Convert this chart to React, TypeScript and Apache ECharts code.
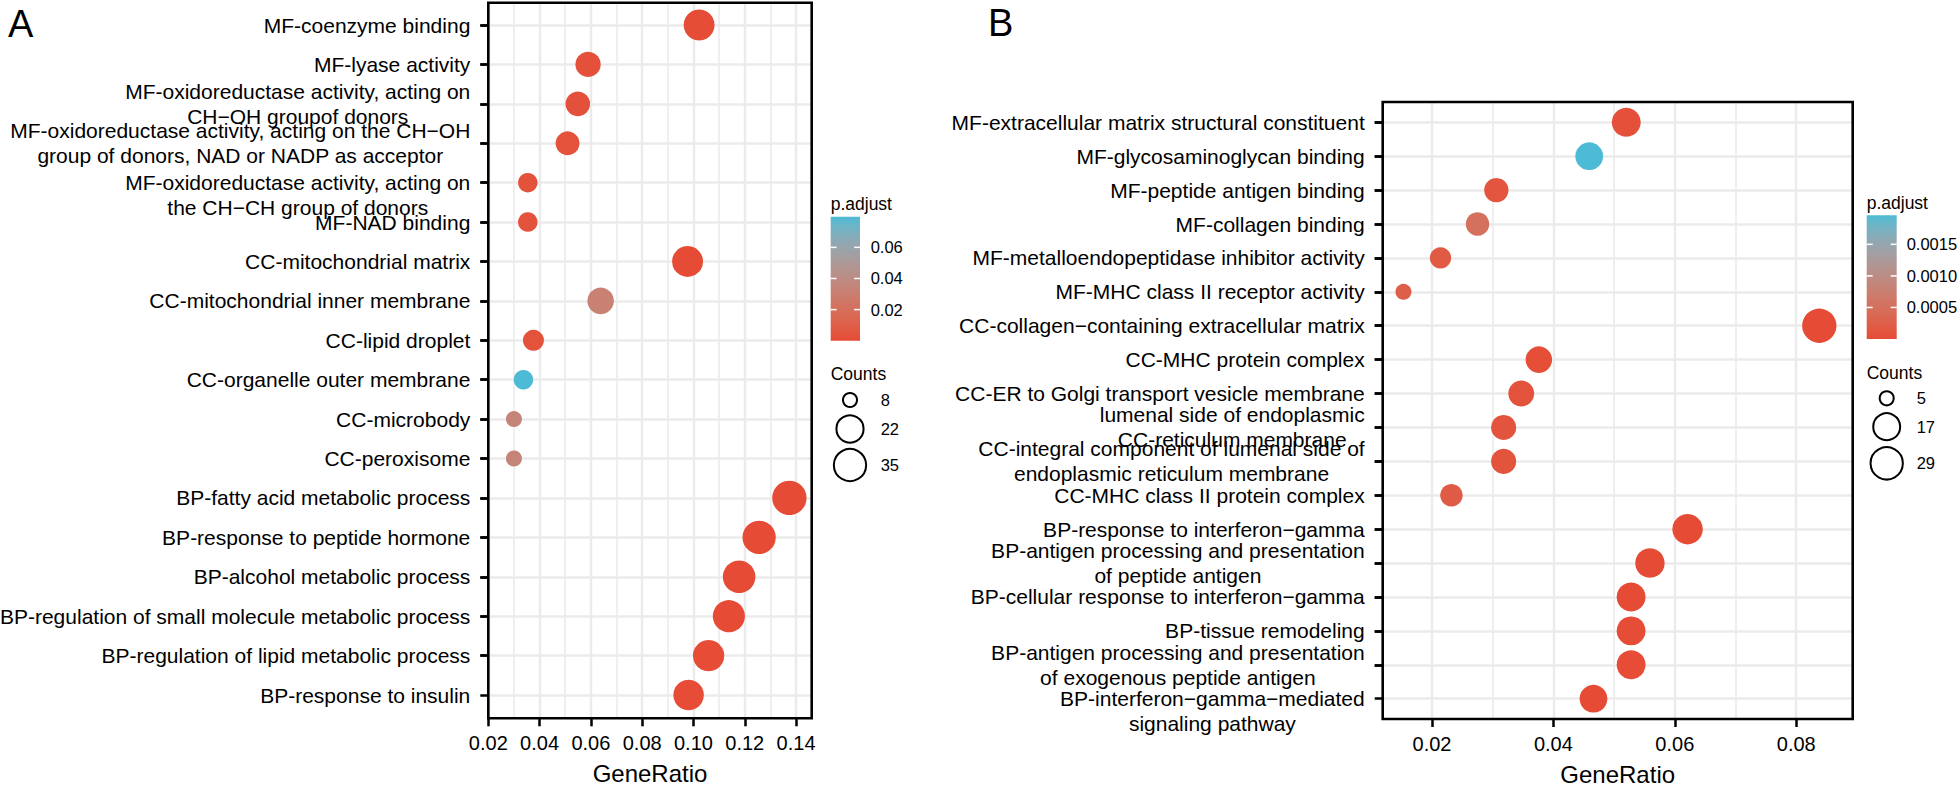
import React, { useEffect, useRef } from "react";
import * as echarts from "echarts";

const FONT = "'Liberation Sans', Arial, Helvetica, sans-serif";

// ---------------- Panel A data ----------------
const termsA = [
  "MF-coenzyme binding",
  "MF-lyase activity",
  "MF-oxidoreductase activity, acting on\nCH−OH groupof donors",
  "MF-oxidoreductase activity, acting on the CH−OH\ngroup of donors, NAD or NADP as acceptor",
  "\nMF-oxidoreductase activity, acting on\nthe CH−CH group of donors",
  "MF-NAD binding",
  "CC-mitochondrial matrix",
  "CC-mitochondrial inner membrane",
  "CC-lipid droplet",
  "CC-organelle outer membrane",
  "CC-microbody",
  "CC-peroxisome",
  "BP-fatty acid metabolic process",
  "BP-response to peptide hormone",
  "BP-alcohol metabolic process",
  "BP-regulation of small molecule metabolic process",
  "BP-regulation of lipid metabolic process",
  "BP-response to insulin",
];
const ratioA = [0.1022, 0.0589, 0.0549, 0.0509, 0.0354, 0.0354, 0.0977, 0.0638, 0.0376, 0.0337, 0.03, 0.03, 0.1374, 0.1256, 0.1178, 0.1138, 0.1059, 0.0981];
const countA = [26, 15, 14, 13, 9, 9, 26, 17, 10, 9, 8, 8, 35, 32, 30, 29, 27, 25];
const padjA = [0.0008, 0.0026, 0.0031, 0.0034, 0.0039, 0.0037, 0.0002, 0.0318, 0.0036, 0.0797, 0.0341, 0.0341, 0.00002, 0.00004, 0.0001, 0.00015, 0.0003, 0.0005];
const xTicksA = [0.02, 0.04, 0.06, 0.08, 0.1, 0.12, 0.14];
const colorTicksA = [0.02, 0.04, 0.06];
const sizeLegendA = [8, 22, 35];

// ---------------- Panel B data ----------------
const termsB = [
  "MF-extracellular matrix structural constituent",
  "MF-glycosaminoglycan binding",
  "MF-peptide antigen binding",
  "MF-collagen binding",
  "MF-metalloendopeptidase inhibitor activity",
  "MF-MHC class II receptor activity",
  "CC-collagen−containing extracellular matrix",
  "CC-MHC protein complex",
  "CC-ER to Golgi transport vesicle membrane",
  "lumenal side of endoplasmic\nCC-reticulum membrane",
  "CC-integral component of lumenal side of\nendoplasmic reticulum membrane",
  "CC-MHC class II protein complex",
  "BP-response to interferon−gamma",
  "BP-antigen processing and presentation\nof peptide antigen",
  "BP-cellular response to interferon−gamma",
  "BP-tissue remodeling",
  "BP-antigen processing and presentation\nof exogenous peptide antigen",
  "\nBP-interferon−gamma−mediated\nsignaling pathway",
];
const ratioB = [0.052, 0.0459, 0.0306, 0.0275, 0.0214, 0.0153, 0.0838, 0.0376, 0.0347, 0.0318, 0.0318, 0.0232, 0.0621, 0.0559, 0.0528, 0.0528, 0.0528, 0.0466];
const countB = [17, 15, 10, 9, 7, 5, 29, 13, 12, 11, 11, 8, 20, 18, 17, 17, 17, 15];
const padjB = [0.00006, 0.00196, 0.00012, 0.0005, 0.00018, 0.00025, 0.0000002, 0.00003, 0.00009, 0.00011, 0.0001, 0.0002, 0.000001, 0.000004, 0.000002, 0.00002, 0.00001, 0.000005];
const xTicksB = [0.02, 0.04, 0.06, 0.08];
const colorTicksB = [0.0005, 0.001, 0.0015];
const sizeLegendB = [5, 17, 29];

const LOW = "#E64B35";
const HIGH = "#4DBBD5";

// ---------------- layout ----------------
const PA = { left: 488.3, right: 811.7, top: 2.7, bottom: 718.3, row0: 25, rowN: 695, xMin: 0.02, xMax: 0.1461, labSplit: 6, lineSplit: 12 };
const PB = { left: 1382.7, right: 1852.7, top: 102, bottom: 719, row0: 122.3, rowN: 698.7, xMin: 0.01188, xMax: 0.0893, labSplit: 4, lineSplit: 8 };
const LA = { barX: 830.7, barY: 216.7, barW: 29.3, barH: 124, titleY: 204, countsY: 374.3, circX: 850, circYs: [400, 429, 465], labX: 880.7, tickLabX: 870.7, digits: 2 };
const LB = { barX: 1866.7, barY: 215.3, barW: 30, barH: 123.7, titleY: 202.7, countsY: 373, circX: 1886.7, circYs: [398.3, 426.7, 463.3], labX: 1916.7, tickLabX: 1906.7, digits: 4 };

// ---------------- colour (Lab interpolation like ggplot) ----------------
function hexToRgb(h: string) {
  return [parseInt(h.slice(1, 3), 16), parseInt(h.slice(3, 5), 16), parseInt(h.slice(5, 7), 16)];
}
function s2l(c: number) { c /= 255; return c <= 0.04045 ? c / 12.92 : Math.pow((c + 0.055) / 1.055, 2.4); }
function l2s(c: number) { const v = c <= 0.0031308 ? 12.92 * c : 1.055 * Math.pow(Math.max(c, 0), 1 / 2.4) - 0.055; return Math.max(0, Math.min(255, Math.round(v * 255))); }
function rgbToLab(rgb: number[]) {
  const R = s2l(rgb[0]), G = s2l(rgb[1]), B = s2l(rgb[2]);
  const X = (0.4124564 * R + 0.3575761 * G + 0.1804375 * B) / 0.95047;
  const Y = 0.2126729 * R + 0.7151522 * G + 0.072175 * B;
  const Z = (0.0193339 * R + 0.119192 * G + 0.9503041 * B) / 1.08883;
  const f = (t: number) => (t > 216 / 24389 ? Math.cbrt(t) : ((24389 / 27) * t + 16) / 116);
  const fx = f(X), fy = f(Y), fz = f(Z);
  return [116 * fy - 16, 500 * (fx - fy), 200 * (fy - fz)];
}
function labToRgb(lab: number[]) {
  const fy = (lab[0] + 16) / 116, fx = fy + lab[1] / 500, fz = fy - lab[2] / 200;
  const fi = (t: number) => (t * t * t > 216 / 24389 ? t * t * t : (116 * t - 16) / (24389 / 27));
  const X = fi(fx) * 0.95047, Y = fi(fy), Z = fi(fz) * 1.08883;
  const R = 3.2404542 * X - 1.5371385 * Y - 0.4985314 * Z;
  const G = -0.969266 * X + 1.8760108 * Y + 0.041556 * Z;
  const B = 0.0556434 * X - 0.2040259 * Y + 1.0572252 * Z;
  return [l2s(R), l2s(G), l2s(B)];
}
function labStops(n: number) {
  const a = rgbToLab(hexToRgb(LOW)), b = rgbToLab(hexToRgb(HIGH));
  const out: string[] = [];
  for (let i = 0; i < n; i++) {
    const t = i / (n - 1);
    const c = labToRgb([a[0] + (b[0] - a[0]) * t, a[1] + (b[1] - a[1]) * t, a[2] + (b[2] - a[2]) * t]);
    out.push(`rgb(${c[0]},${c[1]},${c[2]})`);
  }
  return out;
}
const STOPS = labStops(15);

function dotSize(c: number, cmin: number, cmax: number) {
  return 16 + 18.3 * Math.sqrt((c - cmin) / (cmax - cmin));
}

function richLabel(t: string) {
  return t.split("\n").map((l) => "{c|" + (l.length ? l : " ") + "}").join("\n");
}

function isMult(v: number, step: number) {
  const k = v / step;
  return Math.abs(k - Math.round(k)) < 1e-6;
}

function gridOf(P: any, data: boolean) {
  return {
    left: P.left,
    top: data ? P.row0 : P.top,
    width: P.right - P.left,
    height: data ? P.rowN - P.row0 : P.bottom - P.top,
    containLabel: false,
    outerBoundsMode: "none",
    show: false,
  };
}

function labelX(gi: number, P: any, ticks: number[]) {
  return {
    type: "value", gridIndex: gi, position: "bottom", min: P.xMin, max: P.xMax, splitNumber: P.labSplit,
    name: "GeneRatio", nameLocation: "middle", nameGap: 43,
    nameTextStyle: { fontSize: 24, color: "#000", fontFamily: FONT },
    axisLine: { show: false },
    axisTick: { show: true, length: 8, lineStyle: { color: "#000", width: 2.5 }, customValues: ticks },
    axisLabel: {
      show: true, customValues: ticks, margin: 15, fontSize: 20, color: "#000", fontFamily: FONT,
      showMinLabel: true, showMaxLabel: true,
      formatter: (v: number) => (isMult(v, 0.02) ? v.toFixed(2) : ""),
    },
    splitLine: { show: true, lineStyle: { color: "#ebebeb", width: 2.4 } },
  };
}
function lineX(gi: number, P: any) {
  return {
    type: "value", gridIndex: gi, position: "bottom", min: P.xMin, max: P.xMax, splitNumber: P.lineSplit,
    axisLine: { show: false }, axisTick: { show: false }, axisLabel: { show: false },
    splitLine: { show: true, lineStyle: { color: "#ebebeb", width: 1.6 } },
  };
}
function dataX(gi: number, P: any) {
  return { type: "value", gridIndex: gi, min: P.xMin, max: P.xMax, show: false };
}
function hiddenY(gi: number) {
  return { type: "value", gridIndex: gi, min: 0, max: 1, show: false };
}
const labelStyle = {
  margin: 18, fontSize: 21, lineHeight: 25, color: "#000", fontFamily: FONT, hideOverlap: false,
  rich: { c: { fontSize: 21, lineHeight: 25, color: "#000", fontFamily: FONT, align: "center" } },
};
// main category-label axis: every row except the last one
function dataY(gi: number, terms: string[]) {
  const n = terms.length;
  return {
    type: "value", gridIndex: gi, position: "left", min: 0, max: n - 1, interval: 1, inverse: true,
    axisLine: { show: false },
    axisTick: { show: true, length: 8, lineStyle: { color: "#000", width: 2.5 } },
    axisLabel: {
      ...labelStyle, showMinLabel: true, showMaxLabel: false,
      formatter: (v: number) => (Math.round(v) < n - 1 ? richLabel(terms[Math.round(v)] || "") : ""),
    },
    splitLine: { show: true, lineStyle: { color: "#ebebeb", width: 2.5 } },
  };
}
// companion axis on the same scale that carries only the last row's label and tick
function lastY(gi: number, terms: string[]) {
  const n = terms.length;
  return {
    type: "value", gridIndex: gi, position: "left", min: 0, max: n - 1, interval: 1, inverse: true,
    axisLine: { show: false },
    axisTick: { show: true, length: 8, lineStyle: { color: "#000", width: 2.5 } },
    axisLabel: {
      ...labelStyle, showMinLabel: true, showMaxLabel: true,
      formatter: (v: number) => (Math.round(v) === n - 1 ? richLabel(terms[n - 1]) : ""),
    },
    splitLine: { show: false },
  };
}

function txt(text: string, x: number, y: number, size: number, align = "left") {
  return {
    type: "text", z: 110, silent: true,
    style: { text, x, y, fontSize: size, fontFamily: FONT, fill: "#000", align, textAlign: align, verticalAlign: "middle", textVerticalAlign: "middle" },
  };
}

function legendEls(L: any, P: any, padj: number[], counts: number[], cTicks: number[], sTicks: number[]) {
  const els: any[] = [];
  const pmin = Math.min(...padj), pmax = Math.max(...padj);
  const cmin = Math.min(...counts), cmax = Math.max(...counts);
  els.push(txt("p.adjust", L.barX, L.titleY, 17.5));
  els.push({
    type: "rect", z: 105, silent: true,
    shape: { x: L.barX, y: L.barY, width: L.barW, height: L.barH },
    style: { fill: new echarts.graphic.LinearGradient(0, 1, 0, 0, STOPS.map((c, i) => ({ offset: i / (STOPS.length - 1), color: c }))) },
  });
  cTicks.forEach((v) => {
    const y = L.barY + L.barH - ((v - pmin) / (pmax - pmin)) * L.barH;
    const tl = L.barW / 5;
    els.push({ type: "line", z: 106, silent: true, shape: { x1: L.barX, y1: y, x2: L.barX + tl, y2: y }, style: { stroke: "#fff", lineWidth: 1.5 } });
    els.push({ type: "line", z: 106, silent: true, shape: { x1: L.barX + L.barW - tl, y1: y, x2: L.barX + L.barW, y2: y }, style: { stroke: "#fff", lineWidth: 1.5 } });
    els.push(txt(v.toFixed(L.digits), L.tickLabX, y, 16.5));
  });
  els.push(txt("Counts", L.barX, L.countsY, 17.5));
  sTicks.forEach((c, i) => {
    const d = dotSize(c, cmin, cmax);
    els.push({ type: "circle", z: 106, silent: true, shape: { cx: L.circX, cy: L.circYs[i], r: d / 2 - 1 }, style: { fill: "none", stroke: "#000", lineWidth: 2 } });
    els.push(txt(String(c), L.labX, L.circYs[i], 16.5));
  });
  // panel frame
  els.push({
    type: "rect", z: 120, silent: true,
    shape: { x: P.left, y: P.top, width: P.right - P.left, height: P.bottom - P.top },
    style: { fill: "none", stroke: "#000", lineWidth: 2.6 },
  });
  return els;
}

function scatter(xi: number, yi: number, ratio: number[], counts: number[], padj: number[]) {
  const cmin = Math.min(...counts), cmax = Math.max(...counts);
  return {
    type: "scatter", xAxisIndex: xi, yAxisIndex: yi, clip: false, silent: true, z: 5,
    data: ratio.map((r, i) => [r, i, counts[i], padj[i]]),
    symbol: "circle",
    symbolSize: (v: number[]) => dotSize(v[2], cmin, cmax),
    itemStyle: { opacity: 1, borderWidth: 0 },
    emphasis: { disabled: true },
  };
}

export default function App() {
  const ref = useRef<HTMLDivElement>(null);
  useEffect(() => {
    document.body.style.margin = "0";
    const chart = echarts.init(ref.current as HTMLDivElement, null, { renderer: "svg", width: 1960, height: 786 });
    const option: any = {
      animation: false,
      backgroundColor: "#ffffff",
      textStyle: { fontFamily: FONT },
      grid: [gridOf(PA, false), gridOf(PA, true), gridOf(PB, false), gridOf(PB, true)],
      xAxis: [labelX(0, PA, xTicksA), lineX(0, PA), dataX(1, PA), labelX(2, PB, xTicksB), lineX(2, PB), dataX(3, PB)],
      yAxis: [hiddenY(0), dataY(1, termsA), lastY(1, termsA), hiddenY(2), dataY(3, termsB), lastY(3, termsB)],
      visualMap: [
        { type: "continuous", show: false, seriesIndex: 0, dimension: 3, min: Math.min(...padjA), max: Math.max(...padjA), inRange: { color: STOPS } },
        { type: "continuous", show: false, seriesIndex: 1, dimension: 3, min: Math.min(...padjB), max: Math.max(...padjB), inRange: { color: STOPS } },
      ],
      series: [scatter(2, 1, ratioA, countA, padjA), scatter(5, 4, ratioB, countB, padjB)],
      graphic: {
        elements: [
          txt("A", 8, 24, 38),
          txt("B", 988, 23, 38),
          ...legendEls(LA, PA, padjA, countA, colorTicksA, sizeLegendA),
          ...legendEls(LB, PB, padjB, countB, colorTicksB, sizeLegendB),
        ],
      },
    };
    chart.setOption(option);
    return () => chart.dispose();
  }, []);
  return <div ref={ref} style={{ position: "absolute", left: 0, top: 0, width: 1960, height: 786, background: "#fff" }} />;
}
